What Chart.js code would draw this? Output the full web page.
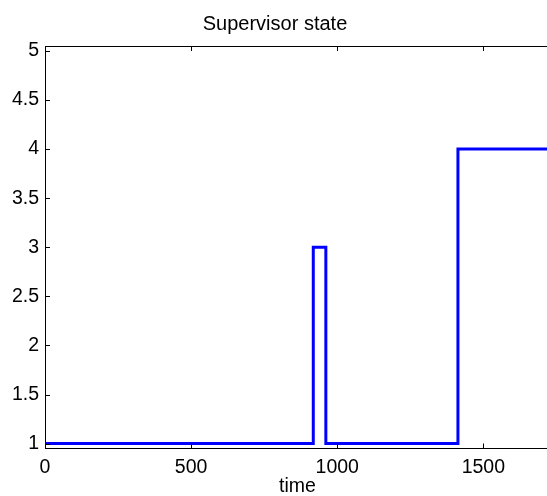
<!DOCTYPE html>
<html>
<head>
<meta charset="utf-8">
<script src="https://cdn.jsdelivr.net/npm/chart.js@4"></script>
<style>
  html, body { margin: 0; padding: 0; background: #fff; overflow: hidden; }
  #wrap { width: 560px; height: 496px; }
</style>
</head>
<body>
<div id="wrap"><canvas id="c" width="560" height="496"></canvas></div>
<script>
// supervisor state switches
const stepTimes = [0, 918, 961, 1413, 1728];
const stateValues = [1, 3, 1, 4, 4];
const xTicks = [0, 500, 1000, 1500];
const yTicks = [1, 1.5, 2, 2.5, 3, 3.5, 4, 4.5, 5];

const font = 'Liberation Sans, Arial, Helvetica, sans-serif';

// matlab style box: top edge + ticks pointing inward
const frame = {
    id: 'frame',
    afterDraw(chart) {
        const {ctx, chartArea: a, scales} = chart;
        ctx.save();
        ctx.strokeStyle = '#000';
        ctx.lineWidth = 1;
        ctx.beginPath();
        ctx.moveTo(a.left, a.top + 0.5);
        ctx.lineTo(a.right, a.top + 0.5);
        xTicks.forEach(v => {
            const px = Math.round(scales.x.getPixelForValue(v)) + 0.5;
            ctx.moveTo(px, a.bottom); ctx.lineTo(px, a.bottom - 5);
            ctx.moveTo(px, a.top); ctx.lineTo(px, a.top + 5);
        });
        yTicks.forEach(v => {
            const py = Math.round(scales.y.getPixelForValue(v)) + 0.5;
            ctx.moveTo(a.left, py); ctx.lineTo(a.left + 5, py);
        });
        ctx.stroke();
        ctx.restore();
    }
};

new Chart(document.getElementById('c'), {
    type: 'line',
    data: {
        datasets: [{
            data: stepTimes.map((t, i) => ({x: t, y: stateValues[i]})),
            borderColor: '#0000ff',
            borderWidth: 3,
            stepped: 'before',
            pointRadius: 0,
            fill: false
        }]
    },
    options: {
        responsive: false,
        animation: false,
        layout: { padding: { left: 0, right: 10, top: 0, bottom: 0 } },
        plugins: {
            legend: { display: false },
            tooltip: { enabled: false },
            title: {
                display: true,
                text: 'Supervisor state',
                color: '#000',
                font: { family: font, size: 20, weight: 'normal' },
                padding: { top: 12, bottom: 10 }
            }
        },
        scales: {
            x: {
                type: 'linear',
                min: 0,
                max: 1728,
                afterFit: s => { s.height = 47.5; },
                afterBuildTicks: s => { s.ticks = xTicks.map(v => ({value: v})); },
                grid: { drawOnChartArea: false, drawTicks: false },
                border: { color: '#000', width: 1 },
                ticks: {
                    padding: 7,
                    color: '#000',
                    maxRotation: 0,
                    autoSkip: false,
                    callback: v => String(v),
                    font: { family: font, size: 19.5 }
                },
                title: {
                    display: true,
                    text: 'time',
                    color: '#000',
                    font: { family: font, size: 19.5, lineHeight: 1.0 },
                    padding: { top: 0, bottom: 0 }
                }
            },
            y: {
                min: 0.95,
                max: 5.05,
                afterFit: s => { s.width = 45; },
                afterBuildTicks: s => { s.ticks = yTicks.map(v => ({value: v})); },
                grid: { drawOnChartArea: false, drawTicks: false },
                border: { color: '#000', width: 1 },
                ticks: {
                    padding: 6,
                    color: '#000',
                    autoSkip: false,
                    callback: v => String(v),
                    font: { family: font, size: 19.5 }
                }
            }
        }
    },
    plugins: [frame]
});
</script>
</body>
</html>
